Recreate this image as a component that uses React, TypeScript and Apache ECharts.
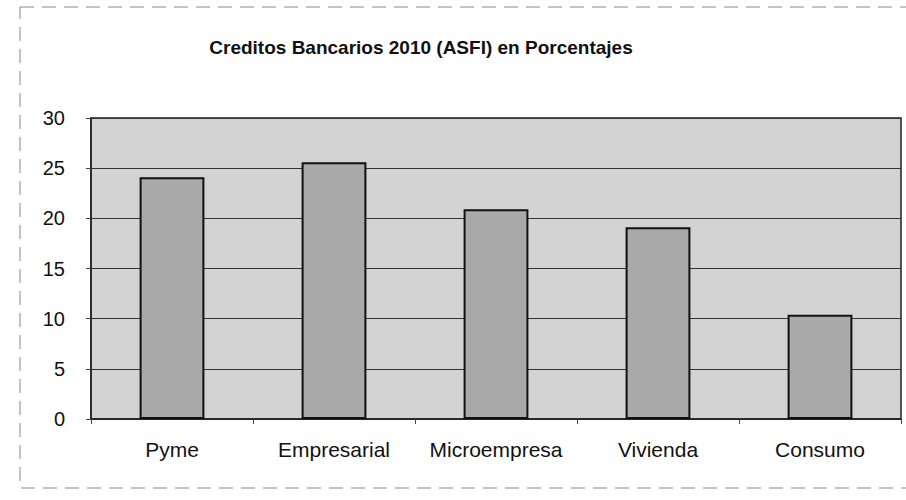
import React, { useEffect, useRef } from "react";
import * as echarts from "echarts";

const title = "Creditos Bancarios 2010 (ASFI) en Porcentajes";
const categories = ["Pyme", "Empresarial", "Microempresa", "Vivienda", "Consumo"];
const values = [24.1, 25.6, 20.9, 19.1, 10.4];
const yTicks = { min: 0, max: 30, interval: 5 };

export default function App() {
  const ref = useRef<HTMLDivElement>(null);
  useEffect(() => {
    if (!ref.current) return;
    const chart = echarts.init(ref.current, null, { renderer: "svg" });
    chart.setOption({
      animation: false,
      backgroundColor: "#ffffff",
      textStyle: { fontFamily: "Liberation Sans, Arial, sans-serif" },
      title: {
        text: title,
        left: 416,
        top: 33,
        textAlign: "center",
        textStyle: { fontSize: 19, fontWeight: "bold", color: "#111", fontFamily: "Liberation Sans, Arial, sans-serif" },
      },
      graphic: [
        {
          type: "rect",
          shape: { x: 20, y: 7, width: 900, height: 481 },
          style: { fill: "none", stroke: "#888", lineWidth: 1, lineDash: [14, 8] },
          silent: true,
        },
      ],
      grid: {
        left: 91,
        right: 5,
        top: 118,
        bottom: 81,
        show: true,
        backgroundColor: "#d3d3d3",
        borderColor: "#222",
        borderWidth: 1.5,
      },
      xAxis: {
        type: "category",
        data: categories,
        axisLine: { show: true, lineStyle: { color: "#222", width: 1.5 } },
        axisTick: { show: true, length: 5, lineStyle: { color: "#444" } },
        axisLabel: { fontSize: 21, color: "#111", margin: 20, interval: 0, hideOverlap: false },
      },
      yAxis: {
        type: "value",
        min: yTicks.min,
        max: yTicks.max,
        interval: yTicks.interval,
        axisLine: { show: true, lineStyle: { color: "#222", width: 1.5 } },
        axisTick: { show: true, length: 5, lineStyle: { color: "#444" } },
        axisLabel: { fontSize: 20, color: "#111", margin: 26 },
        splitLine: { show: true, lineStyle: { color: "#333", width: 1 } },
      },
      series: [
        {
          type: "bar",
          data: values,
          barWidth: "40%",
          itemStyle: { color: "#a9a9a9", borderColor: "#111", borderWidth: 2 },
        },
      ],
    });
    return () => chart.dispose();
  }, []);
  return <div ref={ref} style={{ width: 906, height: 500, position: "absolute", left: 0, top: 0 }} />;
}
